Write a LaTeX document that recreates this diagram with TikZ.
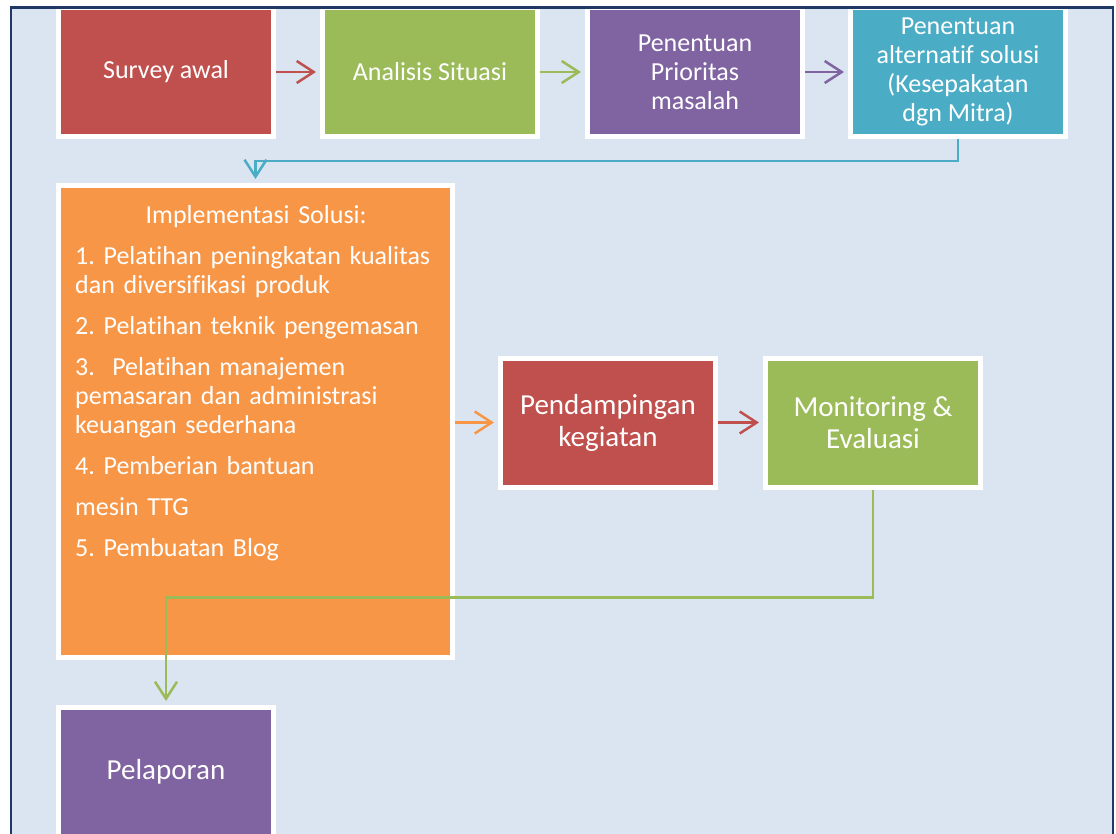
\documentclass[tikz,border=0pt]{standalone}
\usepackage{fontspec}
\setmainfont{Carlito}[Ligatures=NoCommon]
\usetikzlibrary{arrows.meta}
\frenchspacing
\definecolor{merah}{HTML}{C0504D}
\definecolor{hijau}{HTML}{9BBB59}
\definecolor{ungu}{HTML}{8064A2}
\definecolor{biru}{HTML}{4BACC6}
\definecolor{oranye}{HTML}{F79646}
\definecolor{latar}{HTML}{DBE5F1}
\definecolor{bingkai}{HTML}{1F3864}
\tikzset{
  blok/.style={draw=white, line width=5pt, text=white, minimum width=215pt,
    minimum height=129pt, align=center, inner sep=2pt,
    font=\fontsize{26}{29}\selectfont},
  blokbesar/.style={blok, font=\fontsize{29}{32}\selectfont},
  panah/.style={line width=2.5pt, -{Straight Barb[length=17pt,width=22pt]},
    shorten >=4pt},
}
\begin{document}
\begin{tikzpicture}[x=1pt,y=-1pt]
  \useasboundingbox (0,0) rectangle (1116,833);
  \clip (0,0) rectangle (1116,833);
  \fill[white] (0,0) rectangle (1116,833);
  \fill[latar] (11,7.5) rectangle (1113,840);

  % baris atas
  \node[blok, fill=merah] (survey) at (166,72) {Survey awal};
  \node[blok, fill=hijau] (analisis) at (430,72) {Analisis Situasi};
  \node[blok, fill=ungu] (prioritas) at (695,72) {Penentuan\\Prioritas\\masalah};
  \node[blok, fill=biru] (alternatif) at (958,72)
    {Penentuan\\alternatif solusi\\(Kesepakatan\\dgn Mitra)};

  % implementasi
  \node[blok, fill=oranye, minimum width=394pt, minimum height=472pt]
    (implementasi) at (255.5,421.5) {};
  \node[anchor=base west, inner sep=0pt, text width=362pt, text=white,
    font=\fontsize{26}{29}\selectfont] (implteks) at (75,223)
    {\setlength{\parskip}{12pt}%
     {\centering Implementasi Solusi:\par}
     \raggedright
     1. Pelatihan peningkatan kualitas\\dan diversifikasi produk\par
     2. Pelatihan teknik pengemasan\par
     3.\ \ Pelatihan manajemen\\pemasaran dan administrasi\\keuangan sederhana\par
     4. Pemberian bantuan\par
     mesin TTG\par
     5. Pembuatan Blog\par};

  \node[blokbesar, fill=merah] (pendampingan) at (608,422.5) {Pendampingan\\kegiatan};
  \node[blokbesar, fill=hijau] (monitoring) at (873,422.5) {Monitoring \&\\Evaluasi};
  \node[blokbesar, fill=ungu] (pelaporan) at (166,772) {Pelaporan};

  % panah
  \draw[panah, merah] (survey) -- (analisis);
  \draw[panah, hijau] (analisis) -- (prioritas);
  \draw[panah, ungu] (prioritas) -- (alternatif);
  \draw[panah, biru] (alternatif.south) -- ++(0,22) -| (implementasi.north);
  \draw[panah, oranye] (implementasi.east |- pendampingan.west) -- (pendampingan.west);
  \draw[panah, merah] (pendampingan) -- (monitoring);
  \draw[panah, hijau] (monitoring.south) -- ++(0,108) -| (pelaporan.north);

  \draw[bingkai, line width=2.5pt] (11,840) -- (11,7.5) -- (1113,7.5) -- (1113,840);
\end{tikzpicture}
\end{document}
